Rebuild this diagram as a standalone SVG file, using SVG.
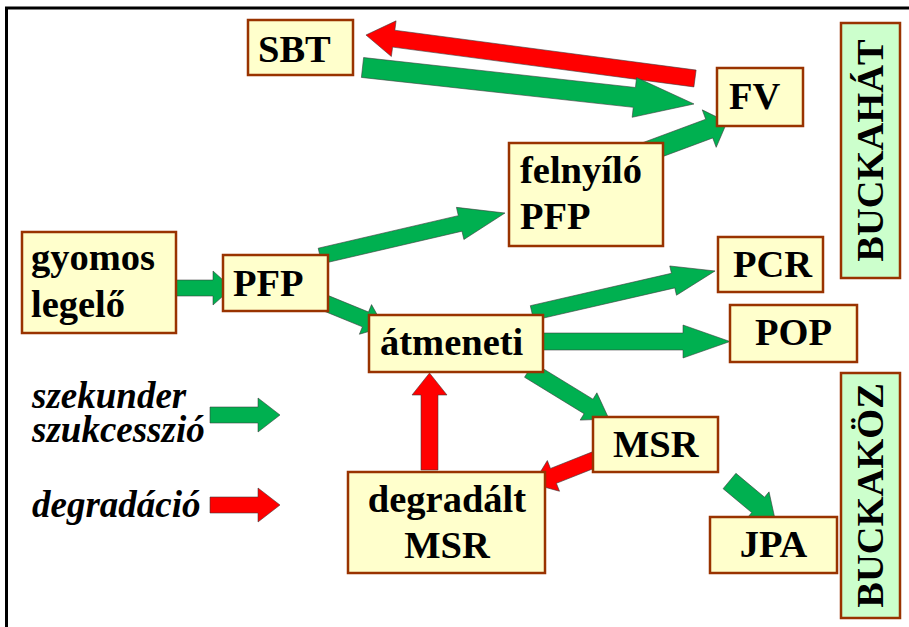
<svg xmlns="http://www.w3.org/2000/svg" width="909" height="627" viewBox="0 0 909 627" font-family="'Liberation Serif', 'DejaVu Serif', serif">
<style>
.box{fill:#FFFFCC;stroke:#993300;stroke-width:2.5}
.gbox{fill:#CCFFCC;stroke:#993300;stroke-width:2.5}
text{font-family:'Liberation Serif','DejaVu Serif',serif;font-weight:bold;font-size:38.5px;fill:#000}
.it{font-style:italic;font-size:37px}
.g{fill:#00B050;stroke:#3c3c3c;stroke-width:0.8;stroke-opacity:0.7}
.r{fill:#FF0000;stroke:#3c3c3c;stroke-width:0.8;stroke-opacity:0.7}
.frame{stroke:#000;stroke-width:3;fill:none}
</style>
<rect width="909" height="627" fill="#fff"/>
<path class="frame" d="M6.5,627 V8 H909"/>
<g id="connectors">
<path class="r" transform="translate(695,78.5) rotate(187.53)" d="M0,-8.5 H303.9 V-18 L331.9,0 L303.9,18 V8.5 H0Z"/>
<path class="g" transform="translate(362.5,67.5) rotate(6.28)" d="M0,-10 H273.5 V-20 L333.5,0 L273.5,20 V10 H0Z"/>
<path class="g" transform="translate(638,155.1) rotate(-20.4)" d="M0,-10 H76 V-20 L95,0 L76,20 V10 H0Z"/>
<path class="g" transform="translate(320,256) rotate(-13.08)" d="M0,-8 H143.9 V-16.5 L189.9,0 L143.9,16.5 V8 H0Z"/>
<path class="g" transform="translate(174,288)" d="M0,-8 H39 V-17 L58,0 L39,17 V8 H0Z"/>
<path class="g" transform="translate(318,300) rotate(22.25)" d="M0,-8 H51.3 V-16 L71.3,0 L51.3,16 V8 H0Z"/>
<path class="g" transform="translate(532,313) rotate(-12.93)" d="M0,-7.5 H144.8 V-15 L187.8,0 L144.8,15 V7.5 H0Z"/>
<path class="g" transform="translate(530,341.5)" d="M0,-8.5 H153 V-16.5 L200,0 L153,16.5 V8.5 H0Z"/>
<path class="g" transform="translate(529,370) rotate(31.49)" d="M0,-8.5 H69.8 V-16 L93.8,0 L69.8,16 V8.5 H0Z"/>
<path class="r" transform="translate(596,459) rotate(158.36)" d="M0,-8 H45.8 V-16.5 L67.8,0 L45.8,16.5 V8 H0Z"/>
<path class="r" transform="translate(429.5,470) rotate(-90)" d="M0,-8.5 H75 V-17.5 L97,0 L75,17.5 V8.5 H0Z"/>
<path class="g" transform="translate(729.5,481) rotate(39.87)" d="M0,-10 H37.3 V-17 L59.3,0 L37.3,17 V10 H0Z"/>
</g>
<g id="sbt"><rect class="box" x="248" y="20" width="105" height="55"/><text x="258" y="62">SBT</text></g>
<g id="fv"><rect class="box" x="717" y="68" width="86" height="58"/><text x="729" y="109">FV</text></g>
<g id="felnyilo-pfp"><rect class="box" x="509" y="143" width="154" height="103"/><text x="520" y="183">felnyíló<tspan x="520" y="229">PFP</tspan></text></g>
<g id="gyomos-legelo"><rect class="box" x="22" y="232" width="154" height="101"/><text x="31" y="270">gyomos<tspan x="31" y="317">legelő</tspan></text></g>
<g id="pfp"><rect class="box" x="223" y="255" width="105" height="56"/><text x="233" y="296">PFP</text></g>
<g id="atmeneti"><rect class="box" x="369" y="315" width="174" height="57"/><text x="380" y="355">átmeneti</text></g>
<g id="pcr"><rect class="box" x="718" y="237" width="105" height="55"/><text x="733" y="277">PCR</text></g>
<g id="pop"><rect class="box" x="730" y="305" width="127" height="57"/><text x="755" y="345">POP</text></g>
<g id="msr"><rect class="box" x="593" y="417" width="125" height="55"/><text x="613" y="457">MSR</text></g>
<g id="degradalt-msr"><rect class="box" x="348" y="472" width="197" height="101"/><text x="447" y="512" text-anchor="middle">degradált<tspan x="447" y="558">MSR</tspan></text></g>
<g id="jpa"><rect class="box" x="710" y="517" width="127" height="56"/><text x="773.5" y="557" text-anchor="middle">JPA</text></g>
<g id="buckahat"><rect class="gbox" x="841" y="23" width="59" height="255"/><text transform="translate(883,150.5) rotate(-90)" text-anchor="middle">BUCKAHÁT</text></g>
<g id="buckakoz"><rect class="gbox" x="841" y="373" width="59" height="245"/><text transform="translate(883,495.5) rotate(-90)" text-anchor="middle">BUCKAKÖZ</text></g>
<g id="legend">
<text class="it" x="32" y="408">szekunder<tspan x="32" y="442">szukcesszió</tspan></text>
<path class="g" transform="translate(210,415)" d="M0,-8 H48 V-17 L70,0 L48,17 V8 H0Z"/>
<text class="it" x="32" y="517">degradáció</text>
<path class="r" transform="translate(210,505)" d="M0,-8 H48 V-17 L70,0 L48,17 V8 H0Z"/>
</g>
</svg>
